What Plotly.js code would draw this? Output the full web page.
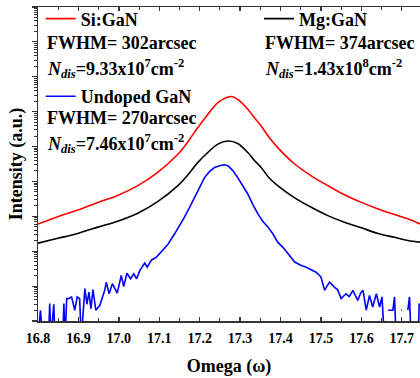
<!DOCTYPE html>
<html>
<head>
<meta charset="utf-8">
<script src="https://cdn.plot.ly/plotly-3.0.1.min.js"></script>
<style>html,body{margin:0;padding:0;background:#fff;}#chart{width:420px;height:378px;}</style>
</head>
<body>
<div id="chart"></div>
<script>
// Omega (degrees)
var siX = [16.800,16.849,16.898,16.948,16.997,17.047,17.096,17.146,17.171,17.195,17.220,17.245,17.270,17.282,17.294,17.319,17.335,17.352,17.372,17.393,17.435,17.476,17.517,17.558,17.600,17.641,17.682,17.715,17.745];
var siY = [603,977,1514,2512,3981,7586,18197,60256,138038,346737,831764,1819701,2630268,2691535,2238721,1174898,676083,389045,181970,93325,31623,14454,7586,4169,2512,1622,1122,851,603];

var mgX = [16.800,16.849,16.898,16.948,16.997,17.047,17.096,17.146,17.171,17.195,17.220,17.245,17.270,17.294,17.319,17.335,17.352,17.372,17.393,17.435,17.476,17.517,17.558,17.600,17.641,17.682,17.715,17.745];
var mgY = [170,234,324,490,724,1230,2630,7586,15488,34674,67608,117490,144544,123027,67608,40738,25119,12589,7586,3388,1820,1047,676,468,324,251,204,182];

// Undoped GaN (null = zero counts, not plotted on log scale; 0.3 = below axis floor)
var unX = [16.800,16.806,16.812,16.818,16.826,16.829,16.832,16.839,16.842,16.850,16.861,16.864,16.867,16.871,16.876,16.883,16.891,16.897,16.903,16.907,16.916,16.921,16.926,16.931,16.936,16.943,16.953,16.965,16.969,16.976,16.984,16.996,17.006,17.012,17.020,17.029,17.037,17.044,17.052,17.064,17.070,17.081,17.093,17.109,17.121,17.138,17.150,17.162,17.175,17.187,17.200,17.212,17.224,17.237,17.249,17.261,17.270,17.282,17.294,17.306,17.319,17.331,17.344,17.356,17.369,17.381,17.393,17.406,17.418,17.426,17.435,17.443,17.451,17.462,17.472,17.480,17.488,17.500,17.509,17.515,17.521,17.527,17.533,17.541,17.550,17.562,17.570,17.579,17.591,17.598,17.604,17.612,17.620,17.628,17.637,17.645,17.651,17.657,17.662,17.666,17.678,17.682,17.686,17.692,17.698,17.700,17.705,17.715,17.719,17.723,17.735,17.741,17.743,17.745];
var unY = [0.3,2.04,0.3,null,0.3,3.16,0.3,3.02,0.3,null,0.3,3.16,0.3,4.37,4.37,4.90,2.04,4.90,4.37,0.3,8.51,3.02,6.76,2.24,7.94,2.04,2.82,7.59,12.9,6.03,11.7,6.31,20.4,9.77,23.4,16.2,22.4,16.2,28.2,45.7,34.7,56.2,67.6,105,155,316,537,933,1820,3467,6761,12882,19055,25119,28184,30200,28184,20417,12882,7586,4365,2239,1175,724,490,316,182,129,85.1,67.6,49.0,43.7,38.9,35.5,31.6,28.2,25.1,18.2,7.59,10.0,12.9,11.2,9.33,7.94,4.37,6.03,5.01,7.59,3.89,6.31,7.59,2.04,5.37,2.51,6.03,2.51,4.90,0.3,null,2.04,2.04,4.90,0.3,null,2.04,2.04,null,2.04,4.90,0.3,null,0.3,3.16,2.82];

var xTickVals = [16.8,16.9,17.0,17.1,17.2,17.3,17.4,17.5,17.6,17.7];
var xTickText = ['16.8','16.9','17.0','17.1','17.2','17.3','17.4','17.5','17.6','17.7'];

var FONT = 'Liberation Serif';
var bold = function(sz){ return {family: FONT, size: sz, color: '#000', weight: 'bold'}; };

var traces = [
  {x: siX, y: siY, type: 'scatter', mode: 'lines', name: 'Si:GaN', legend: 'legend',
   line: {color: '#ff0000', width: 1.6, shape: 'spline', smoothing: 1}},
  {x: mgX, y: mgY, type: 'scatter', mode: 'lines', name: 'Mg:GaN', legend: 'legend3',
   line: {color: '#000000', width: 1.6, shape: 'spline', smoothing: 1}},
  {x: unX, y: unY, type: 'scatter', mode: 'lines', name: 'Undoped GaN', legend: 'legend2',
   connectgaps: false, line: {color: '#0000ff', width: 1.6}}
];

function legendAt(x, y){
  return {x: x, y: y, xanchor: 'left', yanchor: 'middle', bgcolor: 'rgba(0,0,0,0)',
    borderwidth: 0, font: bold(18), itemwidth: 30, tracegroupgap: 0};
}

function ann(x, y, text){
  return {xref: 'paper', yref: 'paper', x: x, y: y, xanchor: 'left', yanchor: 'middle',
    text: text, showarrow: false, font: bold(18), borderpad: 0};
}

var layout = {
  width: 420, height: 378,
  margin: {l: 38, r: 0, t: 5, b: 57, pad: 0},
  paper_bgcolor: '#fff', plot_bgcolor: '#fff',
  font: {family: FONT},
  showlegend: true,
  legend: legendAt(0.007, 0.962),
  legend2: legendAt(0.007, 0.715),
  legend3: legendAt(0.5785, 0.962),
  xaxis: {
    range: [16.8, 17.745], tickvals: xTickVals, ticktext: xTickText,
    ticks: 'inside', ticklen: 4, tickwidth: 1.3, tickcolor: '#333',
    showline: true, linecolor: '#333', linewidth: 1.5, mirror: 'ticks',
    showgrid: false, zeroline: false,
    tickfont: bold(14), ticklabelstandoff: 4,
    minor: {ticks: 'inside', ticklen: 3, dtick: 0.05, tick0: 16.8, tickwidth: 1.1, tickcolor: '#333', showgrid: false},
    title: {text: 'Omega (\u03c9)', font: bold(18), standoff: 14}
  },
  yaxis: {
    type: 'log', range: [0, 9], dtick: 1,
    ticks: 'outside', ticklen: 5, tickwidth: 1.2, tickcolor: '#333',
    showticklabels: false,
    showline: true, linecolor: '#333', linewidth: 1.5, mirror: false,
    showgrid: false, zeroline: false,
    minor: {ticks: 'outside', ticklen: 3, dtick: 'D1', tickwidth: 1, tickcolor: '#333', showgrid: false},
    title: {text: 'Intensity (a.u.)', font: bold(18), standoff: 4}
  },
  annotations: [
    ann(0.020, 0.886, 'FWHM= 302arcsec'),
    ann(0.020, 0.805, '<i>N</i><sub><i>dis</i></sub>=9.33x10<sup>7</sup>cm<sup>-2</sup>'),
    ann(0.020, 0.645, 'FWHM= 270arcsec'),
    ann(0.020, 0.565, '<i>N</i><sub><i>dis</i></sub>=7.46x10<sup>7</sup>cm<sup>-2</sup>'),
    ann(0.5916, 0.886, 'FWHM= 374arcsec'),
    ann(0.5916, 0.805, '<i>N</i><sub><i>dis</i></sub>=1.43x10<sup>8</sup>cm<sup>-2</sup>')
  ]
};

Plotly.newPlot('chart', traces, layout, {staticPlot: true, displayModeBar: false});
</script>
</body>
</html>
